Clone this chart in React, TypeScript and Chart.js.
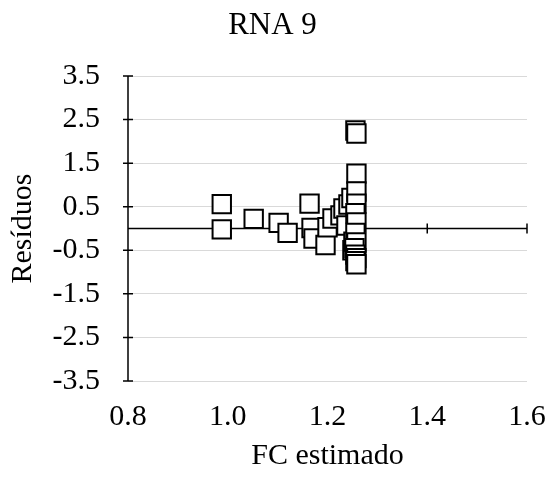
import { useEffect, useRef } from "react";
import { Chart, registerables } from "chart.js";

Chart.register(...registerables);

const chartTitle = "RNA 9";
const xAxisTitle = "FC estimado";
const yAxisTitle = "Resíduos";

const xTicks = [0.8, 1.0, 1.2, 1.4, 1.6];
const yTicks = [-3.5, -2.5, -1.5, -0.5, 0.5, 1.5, 2.5, 3.5];

// Estimated FC and the corresponding residual
const fcEstimado = [
  0.988, 0.988, 1.052, 1.102, 1.12, 1.164, 1.168, 1.172, 1.196, 1.2,
  1.21, 1.226, 1.232, 1.238, 1.242, 1.248, 1.25, 1.252,
  1.256, 1.258, 1.258, 1.258, 1.258, 1.256, 1.258, 1.256, 1.258, 1.254,
  1.256, 1.258, 1.256, 1.258,
];
const residuos = [
  0.56, -0.02, 0.22, 0.13, -0.1, 0.57, 0.01, -0.23, -0.38, 0.03,
  0.23, 0.3, 0.46, 0.07, 0.55, 0.7, -0.5, -0.3,
  2.25, 2.18, 1.26, 0.85, 0.57, 0.35, 0.14, -0.1, -0.32, -0.45,
  -0.6, -0.68, -0.75, -0.82,
];

const FONT = "'Liberation Serif', 'Times New Roman', serif";
const FONT_SIZE = 30;

// Draws the vertical axis at the left edge and the horizontal axis through
// residual = 0, both with tick marks that cross the line.
const crossAxes = {
  id: "crossAxes",
  beforeDatasetsDraw(chart: any) {
    const { ctx, chartArea, scales } = chart;
    const xs = scales.x;
    const ys = scales.y;
    const half = 5;
    ctx.save();
    ctx.strokeStyle = "#000";
    ctx.lineWidth = 1.5;

    const ax = chartArea.left;
    ctx.beginPath();
    ctx.moveTo(ax, ys.getPixelForValue(yTicks[yTicks.length - 1]));
    ctx.lineTo(ax, ys.getPixelForValue(yTicks[0]));
    for (const v of yTicks) {
      const py = ys.getPixelForValue(v);
      ctx.moveTo(ax - half, py);
      ctx.lineTo(ax + half, py);
    }
    ctx.stroke();

    const ay = ys.getPixelForValue(0);
    ctx.beginPath();
    ctx.moveTo(xs.getPixelForValue(xTicks[0]), ay);
    ctx.lineTo(xs.getPixelForValue(xTicks[xTicks.length - 1]), ay);
    for (const v of xTicks.slice(1)) {
      const px = xs.getPixelForValue(v);
      ctx.moveTo(px, ay - half);
      ctx.lineTo(px, ay + half);
    }
    ctx.stroke();
    ctx.restore();
  },
};

export default function App() {
  const canvasRef = useRef<HTMLCanvasElement | null>(null);

  useEffect(() => {
    if (!canvasRef.current) return;
    const points = fcEstimado.map((x, i) => ({ x, y: residuos[i] }));
    const chart = new Chart(canvasRef.current, {
      type: "scatter",
      data: {
        datasets: [
          {
            data: points,
            pointStyle: "rect",
            pointRadius: 13,
            pointHoverRadius: 13,
            pointBorderWidth: 2,
            pointBorderColor: "#000",
            pointBackgroundColor: "#fff",
          },
        ],
      },
      options: {
        responsive: false,
        animation: false,
        layout: { padding: { left: 18, right: 23, top: 0, bottom: 0 } },
        plugins: {
          legend: { display: false },
          tooltip: { enabled: false },
          title: {
            display: true,
            text: chartTitle,
            color: "#000",
            font: { family: FONT, size: 31, weight: "normal", lineHeight: 1.2 },
            padding: { top: 7, bottom: 31.8 },
          },
        },
        scales: {
          x: {
            type: "linear",
            min: 0.8,
            max: 1.6,
            afterBuildTicks: (s: any) => {
              s.ticks = xTicks.map((value) => ({ value }));
            },
            afterFit: (s: any) => {
              s.height = 100;
              s.paddingLeft = 0;
              s.paddingRight = 0;
            },
            border: { display: false },
            grid: { display: false, drawTicks: false },
            ticks: {
              color: "#000",
              padding: 18,
              font: { family: FONT, size: FONT_SIZE },
              callback: (v: any) => Number(v).toFixed(1),
            },
            title: {
              display: true,
              text: xAxisTitle,
              color: "#000",
              font: { family: FONT, size: FONT_SIZE },
              padding: { top: 0, bottom: 7 },
            },
          },
          y: {
            type: "linear",
            min: -3.5,
            max: 3.5,
            afterBuildTicks: (s: any) => {
              s.ticks = yTicks.map((value) => ({ value }));
            },
            afterFit: (s: any) => {
              s.width = 110;
            },
            border: { display: false },
            grid: { color: "#d9d9d9", lineWidth: 1, drawTicks: false },
            ticks: {
              color: "#000",
              padding: 28,
              font: { family: FONT, size: FONT_SIZE },
              callback: (v: any) => Number(v).toFixed(1),
            },
            title: {
              display: true,
              text: yAxisTitle,
              color: "#000",
              font: { family: FONT, size: FONT_SIZE },
              padding: { top: -13, bottom: 0 },
            },
          },
        },
      },
      plugins: [crossAxes],
    });
    return () => chart.destroy();
  }, []);

  return (
    <div style={{ position: "absolute", left: 0, top: 0, width: 550, height: 481, background: "#fff" }}>
      <canvas ref={canvasRef} width={550} height={481} style={{ display: "block" }} />
    </div>
  );
}
